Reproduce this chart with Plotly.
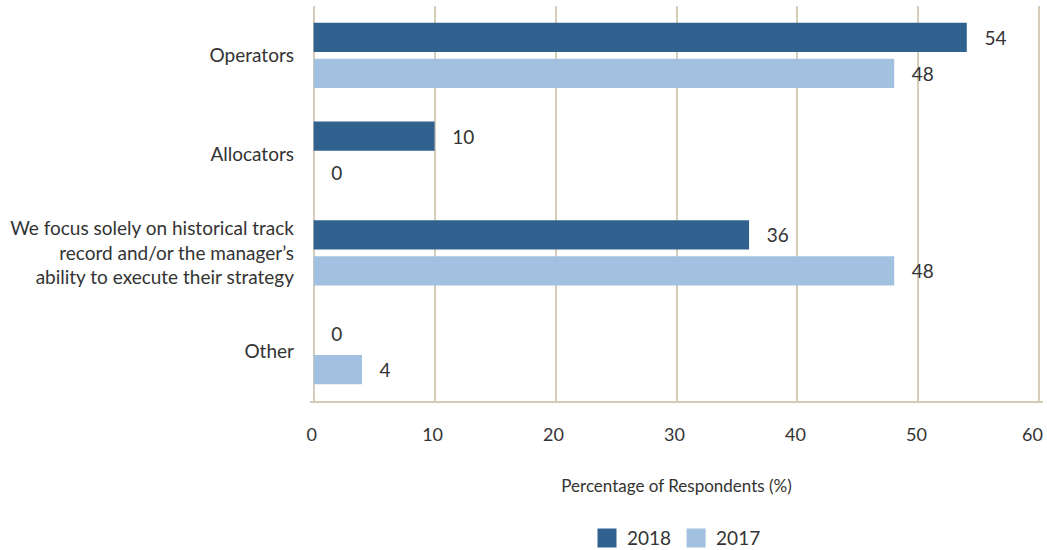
import plotly.graph_objects as go

categories = [
    "Operators",
    "Allocators",
    "We focus solely on historical track<br>record and/or the manager’s<br>ability to execute their strategy",
    "Other",
]
values_2018 = [54, 10, 36, 0]
values_2017 = [48, 0, 48, 4]
series_names = ["2018", "2017"]
x_ticks = [0, 10, 20, 30, 40, 50, 60]
x_tick_labels = ["0", "10", "20", "30", "40", "50", "60"]

c2018 = "#31628f"
c2017 = "#a2c0df"
grid = "#d5ccba"
txt = "#333333"
FONT = "Lato, 'Open Sans', sans-serif"
pad = "\u00a0\u00a0\u00a0"

fig = go.Figure()
for name, vals, col in [(series_names[0], values_2018, c2018), (series_names[1], values_2017, c2017)]:
    fig.add_trace(go.Bar(
        y=categories, x=vals, orientation="h", name=name,
        marker=dict(color=col, line=dict(width=0)),
        text=[pad + str(v) for v in vals], textposition="outside",
        textfont=dict(size=19, color=txt, family=FONT),
        cliponaxis=False, showlegend=False,
    ))
    fig.add_trace(go.Scatter(
        x=[None], y=[None], mode="markers", name=name,
        marker=dict(symbol="square", size=16, color=col, line=dict(color=col, width=3)),
        showlegend=True,
    ))

# last tick label is drawn right-aligned to its gridline so that it stays inside the page
shown_labels = x_tick_labels[:-1] + [""]
fig.add_annotation(
    x=x_ticks[-1], y=0, xref="x", yref="paper", text=x_tick_labels[-1],
    xanchor="right", yanchor="middle", xshift=6, yshift=-33, showarrow=False,
    font=dict(size=18, color=txt, family=FONT),
)

fig.update_layout(
    width=1047, height=550,
    margin=dict(l=310, r=4, t=6, b=149, autoexpand=False),
    paper_bgcolor="white", plot_bgcolor="white",
    barmode="group", bargap=0.27, bargroupgap=0.19,
    font=dict(family=FONT, color=txt, size=18),
    showlegend=True,
    legend=dict(orientation="h", x=0.5, xanchor="center", y=-0.347, yanchor="middle",
                font=dict(size=19, color=txt), itemwidth=30, traceorder="normal"),
    xaxis=dict(
        range=[-0.3, 60.3], tickvals=x_ticks, ticktext=shown_labels,
        showgrid=True, gridcolor=grid, gridwidth=2,
        showline=True, linecolor=grid, linewidth=2, zeroline=False, automargin=False,
        ticks="", ticklabelstandoff=16, ticklabelshift=-2, tickfont=dict(size=18, color=txt),
        title=dict(text="Percentage of Respondents (%)", font=dict(size=17, color=txt), standoff=37),
    ),
    yaxis=dict(
        autorange="reversed", showgrid=False, showline=False, zeroline=False, automargin=False,
        ticks="", ticklabelstandoff=15, tickfont=dict(size=19, color=txt),
    ),
)
fig.write_html("out.html")
